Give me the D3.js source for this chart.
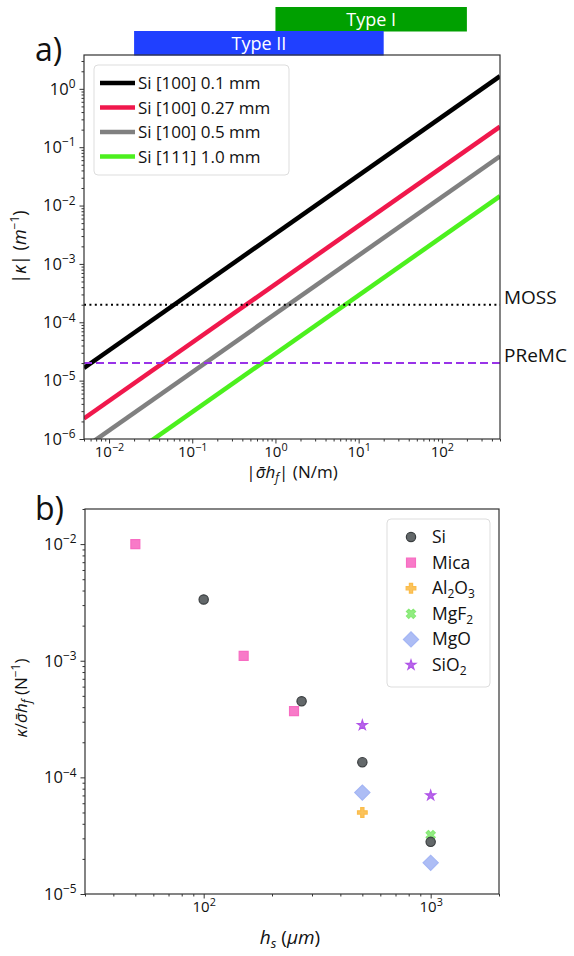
<!DOCTYPE html>
<html>
<head>
<meta charset="utf-8">
<script src="https://cdn.jsdelivr.net/npm/d3@7"></script>
<style>
  html, body { margin: 0; padding: 0; background: #fff; }
  svg { display: block; font-family: "Open Sans", "DejaVu Sans", sans-serif; }
</style>
</head>
<body>
<svg id="fig" width="574" height="956"></svg>
<script>
// ---------- Panel a: curvature vs. film force ----------
const stressEnds = [0.005, 500];                 // |σ̄h_f| (N/m) at the plot edges
const waferNames = ["Si [100] 0.1 mm", "Si [100] 0.27 mm", "Si [100] 0.5 mm", "Si [111] 1.0 mm"];
const waferKappa = [                              // |κ| (1/m) at each end
  [1.65e-5, 1.65],
  [2.25e-6, 0.225],
  [7.0e-7, 0.070],
  [1.45e-7, 0.0145]
];
const waferColors = ["#000000", "#f0184c", "#808080", "#4cf01e"];

const limitNames = ["MOSS", "PReMC"];
const limitValues = [2e-4, 2e-5];

const regimeNames = ["Type I", "Type II"];
const regimeSpans = [[1, 200], [0.02, 20]];
const regimeColors = ["#00a000", "#2040ff"];

const aXTicks = [1e-2, 1e-1, 1e0, 1e1, 1e2];
const aXTickExp = ["−2", "−1", "0", "1", "2"];
const aYTicks = [1e-6, 1e-5, 1e-4, 1e-3, 1e-2, 1e-1, 1e0];
const aYTickExp = ["−6", "−5", "−4", "−3", "−2", "−1", "0"];

// ---------- Panel b: normalised curvature vs. substrate thickness ----------
const materials = ["Si", "Mica", "Al2O3", "MgF2", "MgO", "SiO2"];
const thickness = [            // h_s (µm)
  [100, 270, 500, 1000],
  [50, 150, 250],
  [500],
  [1000],
  [500, 1000],
  [500, 1000]
];
const ratio = [                // κ/σ̄h_f (1/N)
  [3.35e-3, 4.5e-4, 1.35e-4, 2.8e-5],
  [1.0e-2, 1.1e-3, 3.7e-4],
  [5.0e-5],
  [3.2e-5],
  [7.4e-5, 1.85e-5],
  [2.8e-4, 7.0e-5]
];
const matColors = ["#52585a", "#f76cc2", "#fbbc4a", "#86ea74", "#a4b6f4", "#b055e8"];
const matEdges  = ["#3a3e40", "#f76cc2", "#fbbc4a", "#86ea74", "#a4b6f4", "#b055e8"];

const bXTicks = [1e2, 1e3];
const bXTickExp = ["2", "3"];
const bYTicks = [1e-5, 1e-4, 1e-3, 1e-2];
const bYTickExp = ["−5", "−4", "−3", "−2"];

const svg = d3.select("#fig");

// label "10^e" as text with a raised exponent
function powLabel(sel, exps) {
  sel.each(function(d, i) {
    const t = d3.select(this);
    t.text(null);
    t.append("tspan").text("10");
    t.append("tspan").attr("dy", "-0.55em").attr("font-size", "0.72em").text(exps[i]);
  });
}

function logAxes(g, x, y, xt, xe, yt, ye, fsX, fsY) {
  const minor = (sc) => sc.ticks().filter(v => {
    const m = v / Math.pow(10, Math.floor(Math.log10(v) + 1e-9));
    return Math.abs(m - 1) > 1e-6;
  });
  // minor ticks
  g.append("g").attr("transform", `translate(0,${y.range()[0]})`)
    .call(d3.axisBottom(x).tickValues(minor(x)).tickSize(2.5).tickFormat(""))
    .call(a => a.select(".domain").remove());
  g.append("g").attr("transform", `translate(${x.range()[0]},0)`)
    .call(d3.axisLeft(y).tickValues(minor(y)).tickSize(2.5).tickFormat(""))
    .call(a => a.select(".domain").remove());
  // major ticks
  const ax = g.append("g").attr("transform", `translate(0,${y.range()[0]})`)
    .call(d3.axisBottom(x).tickValues(xt).tickSize(4.5).tickPadding(3));
  ax.selectAll(".tick text").attr("font-size", fsX).attr("font-family", "Open Sans").attr("fill", "#111")
    .call(powLabel, xe);
  ax.select(".domain").remove();
  const ay = g.append("g").attr("transform", `translate(${x.range()[0]},0)`)
    .call(d3.axisLeft(y).tickValues(yt).tickSize(4.5).tickPadding(4));
  ay.selectAll(".tick text").attr("font-size", fsY).attr("font-family", "Open Sans").attr("fill", "#111")
    .call(powLabel, ye);
  ay.select(".domain").remove();
  g.selectAll(".tick line").attr("stroke", "#333");
  // frame
  g.append("rect")
    .attr("x", x.range()[0]).attr("y", y.range()[1])
    .attr("width", x.range()[1] - x.range()[0]).attr("height", y.range()[0] - y.range()[1])
    .attr("fill", "none").attr("stroke", "#333").attr("stroke-width", 1.2);
}

// ===== Panel a =====
const xa = d3.scaleLog().domain([0.005, 500]).range([84, 500]);
const ya = d3.scaleLog().domain([1e-6, 3.8]).range([439, 55]);
const ga = svg.append("g");

ga.append("clipPath").attr("id", "clipA").append("rect")
  .attr("x", 84).attr("y", 55).attr("width", 416).attr("height", 384);

// regime bars above the plot
regimeNames.forEach((name, i) => {
  const [a, b] = regimeSpans[i];
  const top = i === 0 ? 7 : 31;
  ga.append("rect").attr("x", xa(a)).attr("y", top)
    .attr("width", xa(b) - xa(a)).attr("height", 24.5).attr("fill", regimeColors[i]);
  ga.append("text").attr("x", (xa(a) + xa(b)) / 2).attr("y", top + 19)
    .attr("text-anchor", "middle").attr("fill", "#fff").attr("font-size", 18).text(name);
});

const plotA = ga.append("g").attr("clip-path", "url(#clipA)");
const lineA = d3.line().x(d => xa(d[0])).y(d => ya(d[1]));
waferKappa.forEach((k, i) => {
  plotA.append("path")
    .datum(stressEnds.map((s, j) => [s, k[j]]))
    .attr("d", lineA).attr("fill", "none")
    .attr("stroke", waferColors[i]).attr("stroke-width", 4.5);
});
// detection limits
limitValues.forEach((v, i) => {
  plotA.append("line").attr("x1", xa(0.005)).attr("x2", xa(500))
    .attr("y1", ya(v)).attr("y2", ya(v))
    .attr("stroke", i === 0 ? "#000" : "#9933e8").attr("stroke-width", 2)
    .attr("stroke-dasharray", i === 0 ? "2,3.4" : "8,4");
  ga.append("text").attr("x", 504).attr("y", ya(v) - 1)
    .attr("font-size", 19).attr("fill", "#111").text(limitNames[i]);
});

logAxes(ga, xa, ya, aXTicks, aXTickExp, aYTicks, aYTickExp, 15, 16.5);

// legend a
const legA = ga.append("g");
legA.append("rect").attr("x", 94).attr("y", 65).attr("width", 195).attr("height", 110).attr("rx", 4)
  .attr("fill", "#fff").attr("stroke", "#ddd").attr("stroke-width", 1);
waferNames.forEach((n, i) => {
  const cy = 83 + i * 24.5;
  legA.append("line").attr("x1", 100).attr("x2", 135).attr("y1", cy).attr("y2", cy)
    .attr("stroke", waferColors[i]).attr("stroke-width", 4.5);
  legA.append("text").attr("x", 138).attr("y", cy + 6).attr("font-size", 17).attr("fill", "#111").text(n);
});

// axis labels a
ga.append("text").attr("x", 292).attr("y", 478).attr("text-anchor", "middle").attr("font-size", 17).attr("fill", "#111")
  .html('|<tspan font-style="italic">σ̄h</tspan><tspan font-style="italic" font-size="12" dy="4">f</tspan><tspan dy="-4">| (N/m)</tspan>');
ga.append("text").attr("transform", "translate(26,247) rotate(-90)").attr("text-anchor", "middle")
  .attr("font-size", 18).attr("fill", "#111")
  .html('|<tspan font-style="italic">κ</tspan>| (<tspan font-style="italic">m</tspan><tspan font-size="12" dy="-7">−1</tspan><tspan dy="7">)</tspan>');
ga.append("text").attr("x", 35).attr("y", 61).attr("font-size", 32).attr("fill", "#111").text("a)");

// ===== Panel b =====
const xb = d3.scaleLog().domain([30, 2000]).range([85, 499]);
const yb = d3.scaleLog().domain([1e-5, 0.02]).range([894, 509]);
const gb = svg.append("g");

logAxes(gb, xb, yb, bXTicks, bXTickExp, bYTicks, bYTickExp, 15, 16.5);

const shapeOf = [
  { type: d3.symbolCircle, size: 68, rot: 0 },
  { type: d3.symbolSquare, size: 80, rot: 0 },
  { type: d3.symbolCross, size: 52, rot: 0 },
  { type: d3.symbolCross, size: 52, rot: 45 },
  { type: d3.symbolSquare, size: 115, rot: 45 },
  { type: d3.symbolStar, size: 30, rot: 0 }
];

const drawOrder = [1, 2, 3, 4, 5, 0];
drawOrder.forEach(i => {
  const sh = shapeOf[i];
  gb.selectAll(null).data(thickness[i].map((h, j) => [h, ratio[i][j]])).join("path")
    .attr("d", d3.symbol().type(sh.type).size(sh.size))
    .attr("transform", d => `translate(${xb(d[0])},${yb(d[1])}) rotate(${sh.rot})`)
    .attr("fill", matColors[i]).attr("fill-opacity", 0.9)
    .attr("stroke", matEdges[i]).attr("stroke-width", 1.2);
});

// legend b
const legB = gb.append("g");
legB.append("rect").attr("x", 387).attr("y", 519).attr("width", 103).attr("height", 168).attr("rx", 4)
  .attr("fill", "#fff").attr("stroke", "#ddd").attr("stroke-width", 1);
const matLabels = [
  "Si", "Mica",
  'Al<tspan font-size="12" dy="4">2</tspan><tspan dy="-4">O</tspan><tspan font-size="12" dy="4">3</tspan>',
  'MgF<tspan font-size="12" dy="4">2</tspan>',
  "MgO",
  'SiO<tspan font-size="12" dy="4">2</tspan>'
];
materials.forEach((m, i) => {
  const cy = 537 + i * 25.6;
  const sh = shapeOf[i];
  legB.append("path").attr("d", d3.symbol().type(sh.type).size(sh.size))
    .attr("transform", `translate(411,${cy}) rotate(${sh.rot})`)
    .attr("fill", matColors[i]).attr("fill-opacity", 0.9)
    .attr("stroke", matEdges[i]).attr("stroke-width", 1.2);
  legB.append("text").attr("x", 432).attr("y", cy + 6).attr("font-size", 17.5).attr("fill", "#111").html(matLabels[i]);
});

// axis labels b
gb.append("text").attr("x", 290).attr("y", 944).attr("text-anchor", "middle").attr("font-size", 19).attr("fill", "#111")
  .html('<tspan font-style="italic">h</tspan><tspan font-style="italic" font-size="13" dy="4">s</tspan><tspan dy="-4"> (</tspan><tspan font-style="italic">μm</tspan>)');
gb.append("text").attr("transform", "translate(27,698) rotate(-90)").attr("text-anchor", "middle")
  .attr("font-size", 17).attr("fill", "#111")
  .html('<tspan font-style="italic">κ</tspan>/<tspan font-style="italic">σ̄h</tspan><tspan font-style="italic" font-size="12" dy="4">f</tspan><tspan dy="-4"> (N</tspan><tspan font-size="12" dy="-7">−1</tspan><tspan dy="7">)</tspan>');
gb.append("text").attr("x", 35).attr("y", 520).attr("font-size", 32).attr("fill", "#111").text("b)");
</script>
</body>
</html>
